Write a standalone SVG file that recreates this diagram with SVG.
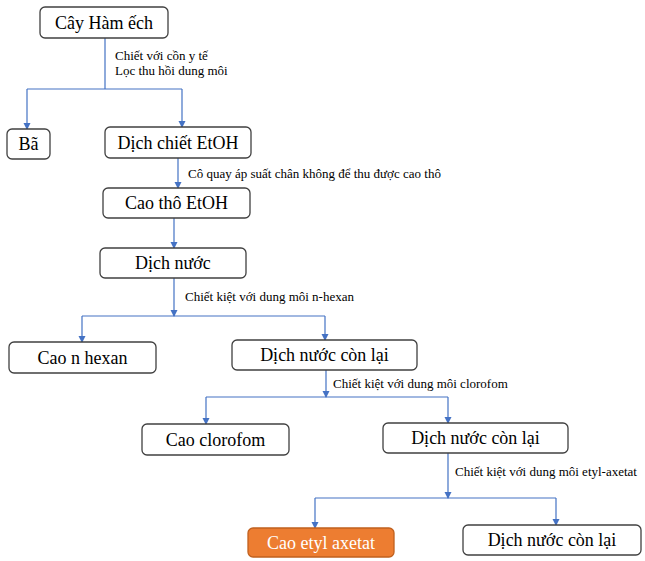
<svg xmlns="http://www.w3.org/2000/svg" width="645" height="561" viewBox="0 0 645 561">
<defs>
<marker id="ah" markerWidth="8" markerHeight="8" refX="6" refY="3.5" orient="auto" markerUnits="userSpaceOnUse">
<path d="M0,0 L7,3.5 L0,7 z" fill="#4472C4"/>
</marker>
<style>
.box{fill:#fff;stroke:#404040;stroke-width:1.3}
.orange{fill:#ED7D31;stroke:#C0601E;stroke-width:1.3}
.t{font-family:"Liberation Serif","Times New Roman",serif;font-size:18px;fill:#000;text-anchor:middle}
.tw{fill:#fff}
.lbl{font-family:"Liberation Serif","Times New Roman",serif;font-size:13px;fill:#000}
.c{fill:none;stroke:#4472C4;stroke-width:1.2}
.a{marker-end:url(#ah)}
</style>
</defs>
<rect width="645" height="561" fill="#fff"/>
<g id="connectors">
<path class="c" d="M105,38 V89 M27,89 H182"/>
<path class="c a" d="M27,89 V129"/>
<path class="c a" d="M182,89 V127"/>
<path class="c a" d="M178,158 V188"/>
<path class="c a" d="M174,218 V248"/>
<path class="c a" d="M174,278 V316"/>
<path class="c" d="M82,316 H325"/>
<path class="c a" d="M82,316 V342"/>
<path class="c a" d="M325,316 V340"/>
<path class="c a" d="M326,370 V397"/>
<path class="c" d="M206,397 H448"/>
<path class="c a" d="M206,397 V424"/>
<path class="c a" d="M448,397 V423"/>
<path class="c a" d="M448,453 V498"/>
<path class="c" d="M315,498 H556"/>
<path class="c a" d="M315,498 V528"/>
<path class="c a" d="M556,498 V525"/>
</g>
<g id="labels">
<text class="lbl" x="115" y="60">Chiết với cồn y tế</text>
<text class="lbl" x="115" y="75">Lọc thu hồi dung môi</text>
<text class="lbl" x="188" y="178">Cô quay áp suất chân không để thu được cao thô</text>
<text class="lbl" x="185" y="301">Chiết kiệt với dung môi n-hexan</text>
<text class="lbl" x="333" y="388">Chiết kiệt với dung môi clorofom</text>
<text class="lbl" x="455" y="476">Chiết kiệt với dung môi etyl-axetat</text>
</g>
<g id="n1"><rect class="box" x="40" y="7" width="128" height="31" rx="5"/><text class="t" x="104" y="29">Cây Hàm ếch</text></g>
<g id="n2"><rect class="box" x="7" y="129" width="43" height="30" rx="5"/><text class="t" x="28.5" y="150">Bã</text></g>
<g id="n3"><rect class="box" x="105" y="127" width="146" height="31" rx="5"/><text class="t" x="178" y="149">Dịch chiết EtOH</text></g>
<g id="n4"><rect class="box" x="103" y="188" width="147" height="30" rx="5"/><text class="t" x="176.5" y="209">Cao thô EtOH</text></g>
<g id="n5"><rect class="box" x="100" y="248" width="146" height="30" rx="5"/><text class="t" x="173" y="269">Dịch nước</text></g>
<g id="n6"><rect class="box" x="9" y="342" width="147" height="31" rx="5"/><text class="t" x="82.5" y="364">Cao n hexan</text></g>
<g id="n7"><rect class="box" x="232" y="340" width="185" height="30" rx="5"/><text class="t" x="324.5" y="361">Dịch nước còn lại</text></g>
<g id="n8"><rect class="box" x="142" y="424" width="147" height="31" rx="5"/><text class="t" x="215.5" y="446">Cao clorofom</text></g>
<g id="n9"><rect class="box" x="383" y="423" width="185" height="30" rx="5"/><text class="t" x="475.5" y="444">Dịch nước còn lại</text></g>
<g id="n10"><rect class="orange" x="248" y="528" width="146" height="29" rx="5"/><text class="t tw" x="321" y="549">Cao etyl axetat</text></g>
<g id="n11"><rect class="box" x="463" y="525" width="178" height="30" rx="5"/><text class="t" x="552" y="546">Dịch nước còn lại</text></g>
</svg>
